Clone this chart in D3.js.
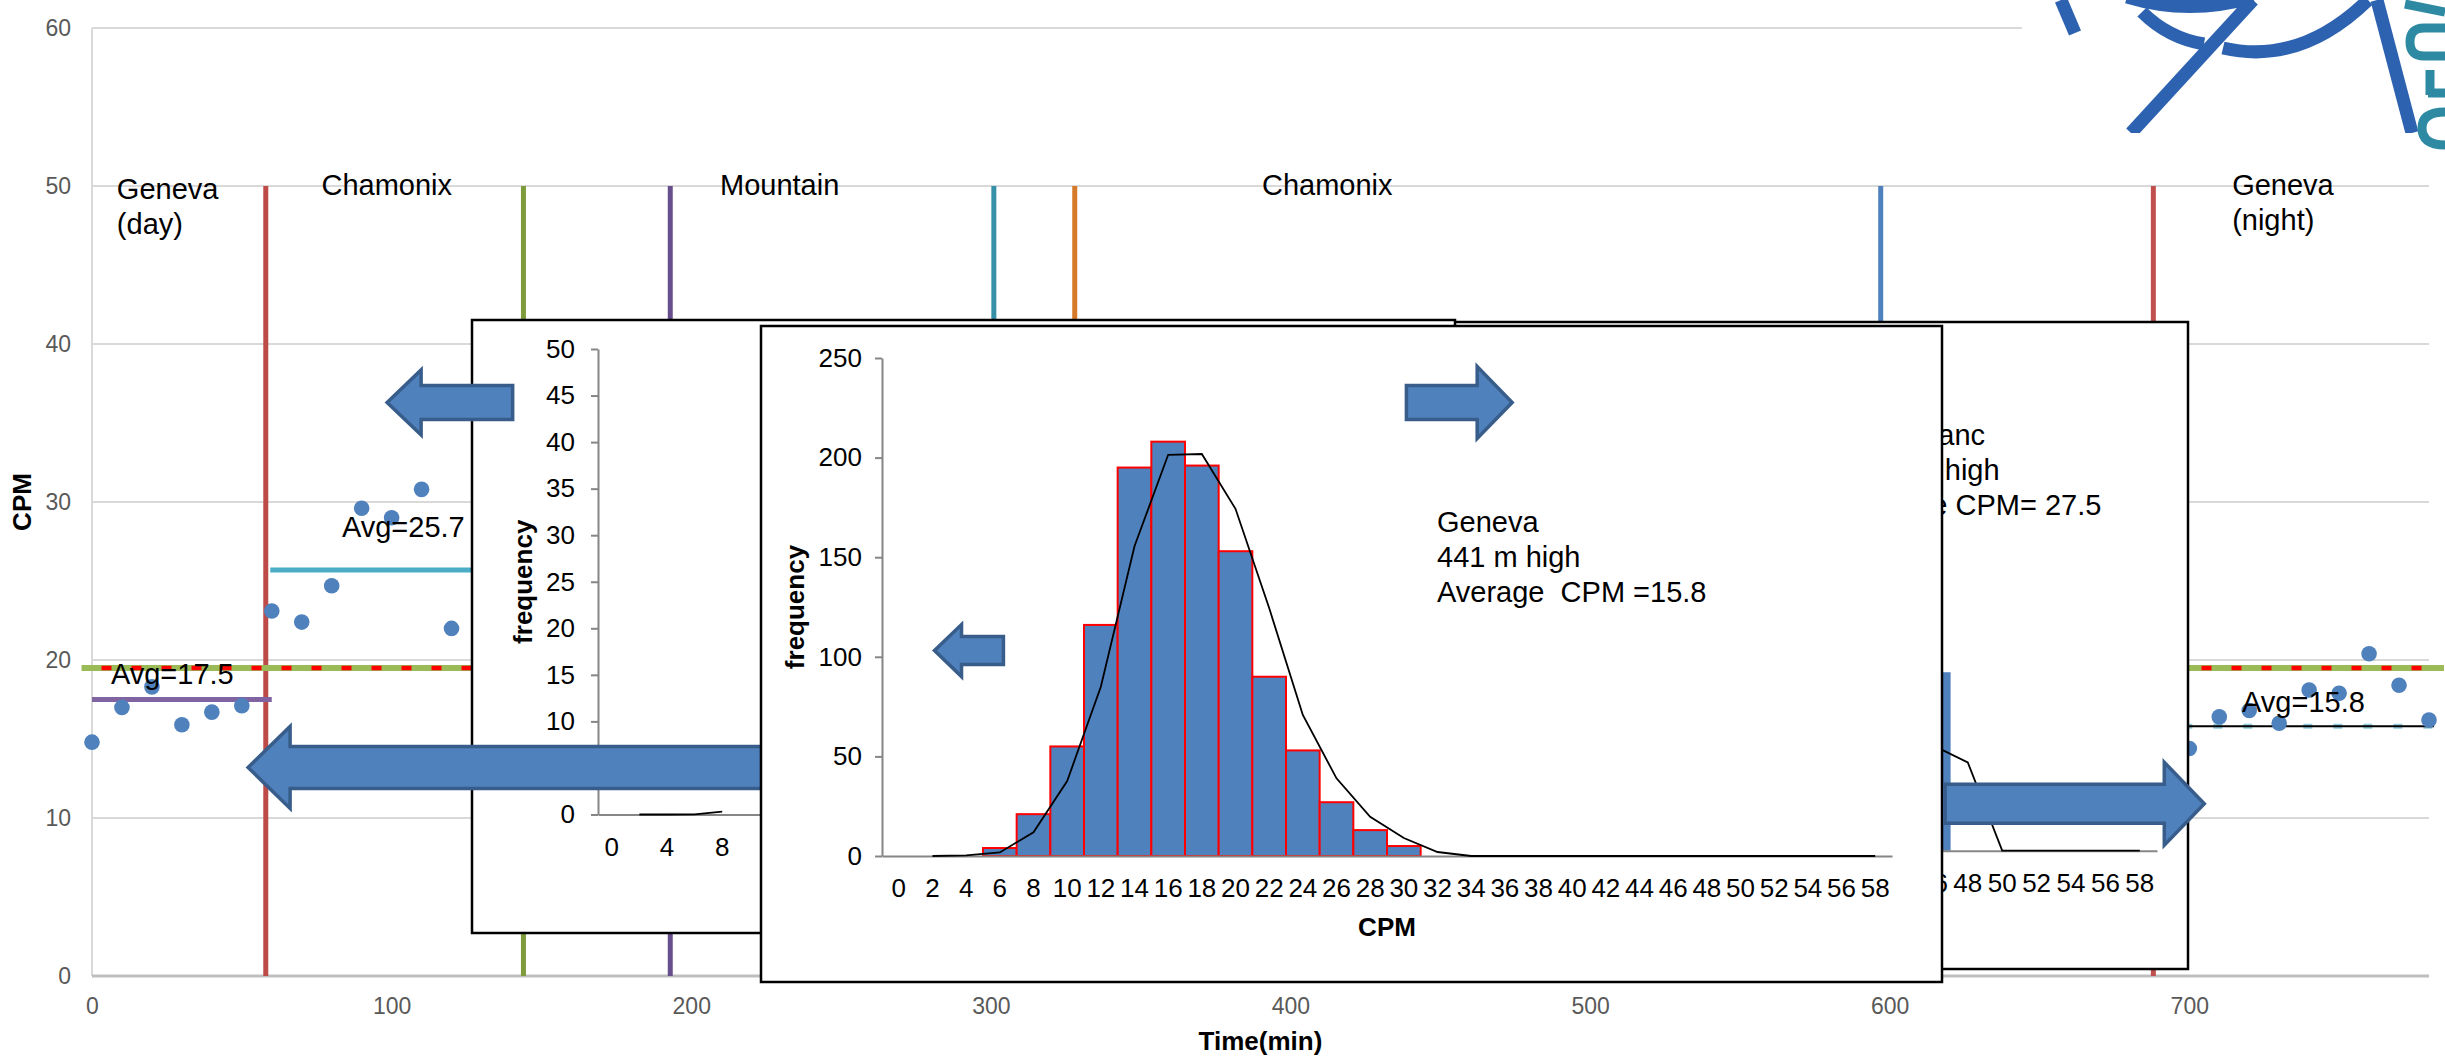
<!DOCTYPE html>
<html>
<head>
<meta charset="utf-8">
<script src="https://cdn.jsdelivr.net/npm/d3@7"></script>
<style>
  body { margin: 0; background: #fff; }
  svg { display: block; font-family: "Liberation Sans", Arial, sans-serif; }
</style>
</head>
<body>
<svg id="chart" width="2445" height="1057"></svg>
<script>
// ---------------- main chart data ----------------
const xTicks = [0, 100, 200, 300, 400, 500, 600, 700];
const yTicks = [0, 10, 20, 30, 40, 50, 60];

const dayTimes = [0, 10, 20, 30, 40, 50];
const dayCpm = [14.8, 17.0, 18.3, 15.9, 16.7, 17.1];
const chamTimes = [60, 70, 80, 90, 100, 110, 120];
const chamCpm = [23.1, 22.4, 24.7, 29.6, 29.0, 30.8, 22.0];
const nightTimes = [700, 710, 720, 730, 740, 750, 760, 770, 780];
const nightCpm = [14.4, 16.4, 16.8, 16.0, 18.1, 17.9, 20.4, 18.4, 16.2];

// times where the location changes
const markerTimes = [58, 144, 193, 301, 328, 597, 688];
const markerColors = ["#be4b48", "#7e9c3c", "#664f8c", "#3590a8", "#d67a2a", "#4f81bd", "#c0504d"];

const regionNames = [["Geneva", "(day)"], ["Chamonix"], ["Mountain"], ["Chamonix"], ["Geneva", "(night)"]];
const regionStart = [8.3, 76.6, 209.6, 390.5, 714.3];
const regionTop = [49.2, 49.4, 49.4, 49.4, 49.4];

const avgLabels = ["Avg=17.5", "Avg=25.7", "Avg=15.8"];
const avgValues = [17.5, 25.7, 15.8];
const avgFrom = [0, 59.5, 688];
const avgTo = [60, 130, 780];
const avgLabelAt = [[6.3, 18.5], [83.4, 27.8], [717.6, 16.7]];
const refLevel = 19.5;

// ---------------- histogram data ----------------
const cpmBins = [0, 2, 4, 6, 8, 10, 12, 14, 16, 18, 20, 22, 24, 26, 28, 30, 32, 34, 36, 38, 40, 42, 44, 46, 48, 50, 52, 54, 56, 58];
const genevaFreq = [0, 0, 0, 4, 21, 55, 116, 195, 208, 196, 153, 90, 53, 27, 13, 5, 0, 0, 0, 0, 0, 0, 0, 0, 0, 0, 0, 0, 0, 0];
const genevaFit = [null, 0, 0.3, 1.8, 11.9, 37.6, 85, 155.5, 201.4, 201.8, 174.3, 124.5, 70.8, 39, 19.7, 9, 2, 0, 0, 0, 0, 0, 0, 0, 0, 0, 0, 0, 0, 0];
const genevaText = ["Geneva", "441 m high", "Average  CPM =15.8"];

// Chamonix histogram (left panel): only the start is visible
const chamFitBins = [2, 4, 6, 8];
const chamFit = [0, 0, 0.02, 0.3];

// Mont Blanc histogram (right panel): only the tail is visible
const mbBarBins = [46];
const mbBarFreq = [18];
const mbFitBins = [46, 48, 50, 52, 54, 56, 58];
const mbFit = [10.6, 8.9, 0, 0, 0, 0, 0];
const mbText = ["Mont Blanc", "3842 m high", "Average CPM= 27.5"];

// block arrows, anchored in main chart units (time, CPM)
const arrows = [
  { tail: 140.4, tip: 98.5, cpm: 36.3, headLen: 34, head: 32.5, shaft: 17 },
  { tail: 223.8, tip: 52.1, cpm: 13.2, headLen: 42, head: 41, shaft: 21 }
];
const panelArrows = [
  { tail: 438.7, tip: 474.0, cpm: 36.3, headLen: 35, head: 36, shaft: 17 },
  { tail: 304.2, tip: 281.2, cpm: 20.6, headLen: 27, head: 26, shaft: 14 }
];
const rightArrow = { tail: 618.5, tip: 705.0, cpm: 10.9, headLen: 40, head: 41.5, shaft: 19.5 };

// ---------------- layout ----------------
const font = '"Liberation Sans", Arial, sans-serif';
const svg = d3.select("#chart");

const x = d3.scaleLinear().domain([0, 780]).range([92, 2429]);
const y = d3.scaleLinear().domain([0, 60]).range([976, 28]);

// gridlines
svg.append("g").selectAll("line")
  .data(yTicks.filter(d => d > 0))
  .join("line")
  .attr("x1", x(0)).attr("x2", x(780))
  .attr("y1", d => y(d)).attr("y2", d => y(d))
  .attr("stroke", "#d9d9d9").attr("stroke-width", 2);

svg.append("line")
  .attr("x1", x(0)).attr("x2", x(0)).attr("y1", y(60)).attr("y2", y(0))
  .attr("stroke", "#d9d9d9").attr("stroke-width", 2);

// logo in the top right corner
const logo = svg.append("g");
logo.append("rect").attr("x", 2022).attr("y", 0).attr("width", 423).attr("height", 134).attr("fill", "#fff");
svg.append("clipPath").attr("id", "logoClip")
  .append("rect").attr("x", 2022).attr("y", 0).attr("width", 423).attr("height", 133);
const blueLogo = logo.append("g").attr("clip-path", "url(#logoClip)")
  .attr("fill", "none").attr("stroke", "#2d62b0").attr("stroke-width", 13);
["M2061,0 L2075,33", "M2127,-3 Q2190,16 2253,-3", "M2142,12 Q2168,38 2204,44",
 "M2253,0 L2131,133", "M2223,48 Q2300,66 2368,0", "M2377,0 L2412,133"]
  .forEach(d => blueLogo.append("path").attr("d", d));
const tealLogo = logo.append("g").attr("fill", "none").attr("stroke", "#2e89a3").attr("stroke-width", 9);
["M2405,4 L2445,12", "M2445,28 L2424,28 Q2410,28 2410,42 Q2410,56 2424,56 L2445,56",
 "M2430,70 L2430,95 M2428,93 L2445,93", "M2445,112 Q2422,112 2422,128 Q2422,145 2445,145"]
  .forEach(d => tealLogo.append("path").attr("d", d));

// axis lines and labels
svg.append("line")
  .attr("x1", x(0)).attr("x2", x(780)).attr("y1", y(0)).attr("y2", y(0))
  .attr("stroke", "#bfbfbf").attr("stroke-width", 3);

svg.append("g")
  .attr("transform", `translate(${x(0)},0)`)
  .call(d3.axisLeft(y).tickValues(yTicks).tickSize(0).tickPadding(21))
  .call(g => g.select(".domain").remove())
  .attr("font-size", 23).attr("font-family", font)
  .selectAll("text").attr("fill", "#595959");

svg.append("g")
  .attr("transform", `translate(0,${y(0)})`)
  .call(d3.axisBottom(x).tickValues(xTicks).tickSize(0).tickPadding(22))
  .call(g => g.select(".domain").remove())
  .attr("font-size", 23).attr("font-family", font)
  .selectAll("text").attr("fill", "#595959");

svg.append("text")
  .attr("transform", `translate(22,${(y(0) + y(60)) / 2}) rotate(-90)`)
  .attr("text-anchor", "middle").attr("dy", "0.35em")
  .attr("font-size", 26).attr("font-weight", "bold").text("CPM");

svg.append("text")
  .attr("x", (x(0) + x(780)) / 2).attr("y", 1050)
  .attr("text-anchor", "middle")
  .attr("font-size", 26).attr("font-weight", "bold").text("Time(min)");

// location change markers
svg.append("g").selectAll("line")
  .data(markerTimes)
  .join("line")
  .attr("x1", d => x(d)).attr("x2", d => x(d))
  .attr("y1", y(50)).attr("y2", y(0))
  .attr("stroke", (d, i) => markerColors[i]).attr("stroke-width", 5);

// reference level (green with red dashes)
svg.append("line")
  .attr("x1", x(-3.5)).attr("x2", x(785)).attr("y1", y(refLevel)).attr("y2", y(refLevel))
  .attr("stroke", "#9bbb59").attr("stroke-width", 6);
svg.append("line")
  .attr("x1", x(-3.5)).attr("x2", x(782)).attr("y1", y(refLevel)).attr("y2", y(refLevel))
  .attr("stroke", "#ff0000").attr("stroke-width", 4.5)
  .attr("stroke-dasharray", "10,20").attr("stroke-dashoffset", 10);

// averages
svg.append("line")
  .attr("x1", x(avgFrom[0])).attr("x2", x(avgTo[0])).attr("y1", y(avgValues[0])).attr("y2", y(avgValues[0]))
  .attr("stroke", "#8064a2").attr("stroke-width", 5);
svg.append("line")
  .attr("x1", x(avgFrom[1])).attr("x2", x(avgTo[1])).attr("y1", y(avgValues[1])).attr("y2", y(avgValues[1]))
  .attr("stroke", "#4bacc6").attr("stroke-width", 5);
svg.append("line")
  .attr("x1", x(avgFrom[2])).attr("x2", x(avgTo[2]) + 6).attr("y1", y(avgValues[2])).attr("y2", y(avgValues[2]))
  .attr("stroke", "#93cddd").attr("stroke-width", 5).attr("stroke-dasharray", "9,21");
svg.append("line")
  .attr("x1", x(avgFrom[2])).attr("x2", x(avgTo[2]) + 5).attr("y1", y(avgValues[2])).attr("y2", y(avgValues[2]))
  .attr("stroke", "#000").attr("stroke-width", 2);

// measurements
const points = [];
dayTimes.forEach((t, i) => points.push([t, dayCpm[i]]));
chamTimes.forEach((t, i) => points.push([t, chamCpm[i]]));
nightTimes.forEach((t, i) => points.push([t, nightCpm[i]]));
svg.append("g").selectAll("circle")
  .data(points)
  .join("circle")
  .attr("cx", d => x(d[0])).attr("cy", d => y(d[1])).attr("r", 7.8)
  .attr("fill", "#4f81bd");

// labels
regionNames.forEach((lines, i) => {
  const t = svg.append("text").attr("font-size", 29)
    .attr("x", x(regionStart[i])).attr("y", y(regionTop[i]));
  lines.forEach((s, j) => t.append("tspan").attr("x", x(regionStart[i])).attr("dy", j ? 35 : 0).text(s));
});
avgLabels.forEach((s, i) => {
  svg.append("text").attr("font-size", 29)
    .attr("x", x(avgLabelAt[i][0])).attr("y", y(avgLabelAt[i][1])).text(s);
});

// ---------------- helpers ----------------
function blockArrow(g, a) {
  const tipX = x(a.tip), tailX = x(a.tail), cy = y(a.cpm);
  const dir = tipX > tailX ? 1 : -1;
  const baseX = tipX - dir * a.headLen;
  const pts = [[tailX, cy - a.shaft], [baseX, cy - a.shaft], [baseX, cy - a.head], [tipX, cy],
               [baseX, cy + a.head], [baseX, cy + a.shaft], [tailX, cy + a.shaft]];
  g.append("path").attr("d", d3.line()(pts) + "Z")
    .attr("fill", "#4f81bd").attr("stroke", "#385d8a").attr("stroke-width", 3.5)
    .attr("stroke-linejoin", "miter");
}

function panelBox(b) {
  const g = svg.append("g");
  g.append("rect").attr("x", b.x0).attr("y", b.y0)
    .attr("width", b.x1 - b.x0).attr("height", b.y1 - b.y0)
    .attr("fill", "#fff").attr("stroke", "#000").attr("stroke-width", 2.5);
  return g;
}

function styleAxis(g) {
  g.attr("font-size", 26).attr("font-family", font);
  g.selectAll("path, line").attr("stroke", "#868686").attr("stroke-width", 2);
  g.selectAll("text").attr("fill", "#000");
}

const boxA = { x0: 472, y0: 320, x1: 1455, y1: 933 };
const boxB = { x0: 761, y0: 326, x1: 1942, y1: 982 };
const boxC = { x0: 1010, y0: 322, x1: 2188, y1: 969 };

// ---------------- right panel (Mont Blanc) ----------------
const gC = panelBox(boxC);
const xC = d3.scaleBand().domain(cpmBins).range([1125, 2157]).padding(0);
const yC = d3.scaleLinear().domain([0, 50]).range([850.7, 355]);
gC.selectAll(".bar").data(mbBarBins).join("rect")
  .attr("x", d => xC(d)).attr("width", xC.bandwidth())
  .attr("y", (d, i) => yC(mbBarFreq[i])).attr("height", (d, i) => yC(0) - yC(mbBarFreq[i]))
  .attr("fill", "#4f81bd");
gC.append("g").attr("transform", `translate(0,${yC(0)})`)
  .call(d3.axisBottom(xC).tickValues(cpmBins.filter(c => c >= 46)).tickSize(0).tickPadding(23))
  .call(styleAxis);
gC.append("path")
  .attr("d", d3.line().x((d, i) => xC(d) + xC.bandwidth() / 2).y((d, i) => yC(mbFit[i]))(mbFitBins))
  .attr("fill", "none").attr("stroke", "#000").attr("stroke-width", 1.8);
mbText.forEach((s, i) => {
  gC.append("text").attr("x", 1840).attr("y", 445 + i * 35).attr("font-size", 29).text(s);
});

// ---------------- left panel (Chamonix) ----------------
const gA = panelBox(boxA);
const xA = d3.scaleBand().domain(cpmBins).range([598, 1426]).padding(0);
const yA = d3.scaleLinear().domain([0, 50]).range([814.5, 349]);
gA.append("g").attr("transform", `translate(${xA.range()[0]},0)`)
  .call(d3.axisLeft(yA).tickValues([0, 5, 10, 15, 20, 25, 30, 35, 40, 45, 50]).tickSize(7).tickSizeOuter(0).tickPadding(16))
  .call(styleAxis);
gA.append("g").attr("transform", `translate(0,${yA(0)})`)
  .call(d3.axisBottom(xA)
    .tickValues(cpmBins.filter((c, i) => i % 2 === 0 && xA(c) + xA.bandwidth() < boxB.x0))
    .tickSize(0).tickSizeOuter(0).tickPadding(23))
  .call(styleAxis);
gA.append("path")
  .attr("d", d3.line().x(d => xA(d) + xA.bandwidth() / 2).y((d, i) => yA(chamFit[i]))(chamFitBins))
  .attr("fill", "none").attr("stroke", "#000").attr("stroke-width", 1.8);
gA.append("text")
  .attr("transform", `translate(523,${(yA(0) + yA(50)) / 2}) rotate(-90)`)
  .attr("text-anchor", "middle").attr("dy", "0.35em")
  .attr("font-size", 26).attr("font-weight", "bold").text("frequency");

// big arrows over the left panel
const gArrows = svg.append("g");
arrows.forEach(a => blockArrow(gArrows, a));

// ---------------- middle panel (Geneva) ----------------
const gB = panelBox(boxB);
const xB = d3.scaleBand().domain(cpmBins).range([882, 1892]).padding(0);
const yB = d3.scaleLinear().domain([0, 250]).range([856, 358]);

const genevaBars = cpmBins.map((c, i) => ({ c, f: genevaFreq[i] })).filter(d => d.f > 0);
gB.append("g").selectAll("rect")
  .data(genevaBars)
  .join("rect")
  .attr("x", d => xB(d.c)).attr("width", xB.bandwidth())
  .attr("y", d => yB(d.f)).attr("height", d => yB(0) - yB(d.f))
  .attr("fill", "#4f81bd").attr("stroke", "#ff0000").attr("stroke-width", 2);

gB.append("g").attr("transform", `translate(${xB.range()[0]},0)`)
  .call(d3.axisLeft(yB).tickValues([0, 50, 100, 150, 200, 250]).tickSize(7).tickSizeOuter(0).tickPadding(13))
  .call(styleAxis);
gB.append("g").attr("transform", `translate(0,${yB(0)})`)
  .call(d3.axisBottom(xB).tickSize(0).tickSizeOuter(0).tickPadding(23))
  .call(styleAxis);

gB.append("path")
  .datum(cpmBins.map((c, i) => ({ c, v: genevaFit[i] })))
  .attr("d", d3.line().defined(d => d.v !== null).x(d => xB(d.c) + xB.bandwidth() / 2).y(d => yB(d.v)))
  .attr("fill", "none").attr("stroke", "#000").attr("stroke-width", 1.8);

gB.append("text")
  .attr("transform", `translate(795,${(yB(0) + yB(250)) / 2}) rotate(-90)`)
  .attr("text-anchor", "middle").attr("dy", "0.35em")
  .attr("font-size", 26).attr("font-weight", "bold").text("frequency");
gB.append("text")
  .attr("x", (xB.range()[0] + xB.range()[1]) / 2).attr("y", 936)
  .attr("text-anchor", "middle")
  .attr("font-size", 26).attr("font-weight", "bold").text("CPM");

genevaText.forEach((s, i) => {
  gB.append("text").attr("x", 1437).attr("y", 532 + i * 35)
    .attr("font-size", 29).style("white-space", "pre").text(s);
});
panelArrows.forEach(a => blockArrow(gB, a));

// arrow towards Geneva (night)
blockArrow(svg.append("g"), rightArrow);
</script>
</body>
</html>
